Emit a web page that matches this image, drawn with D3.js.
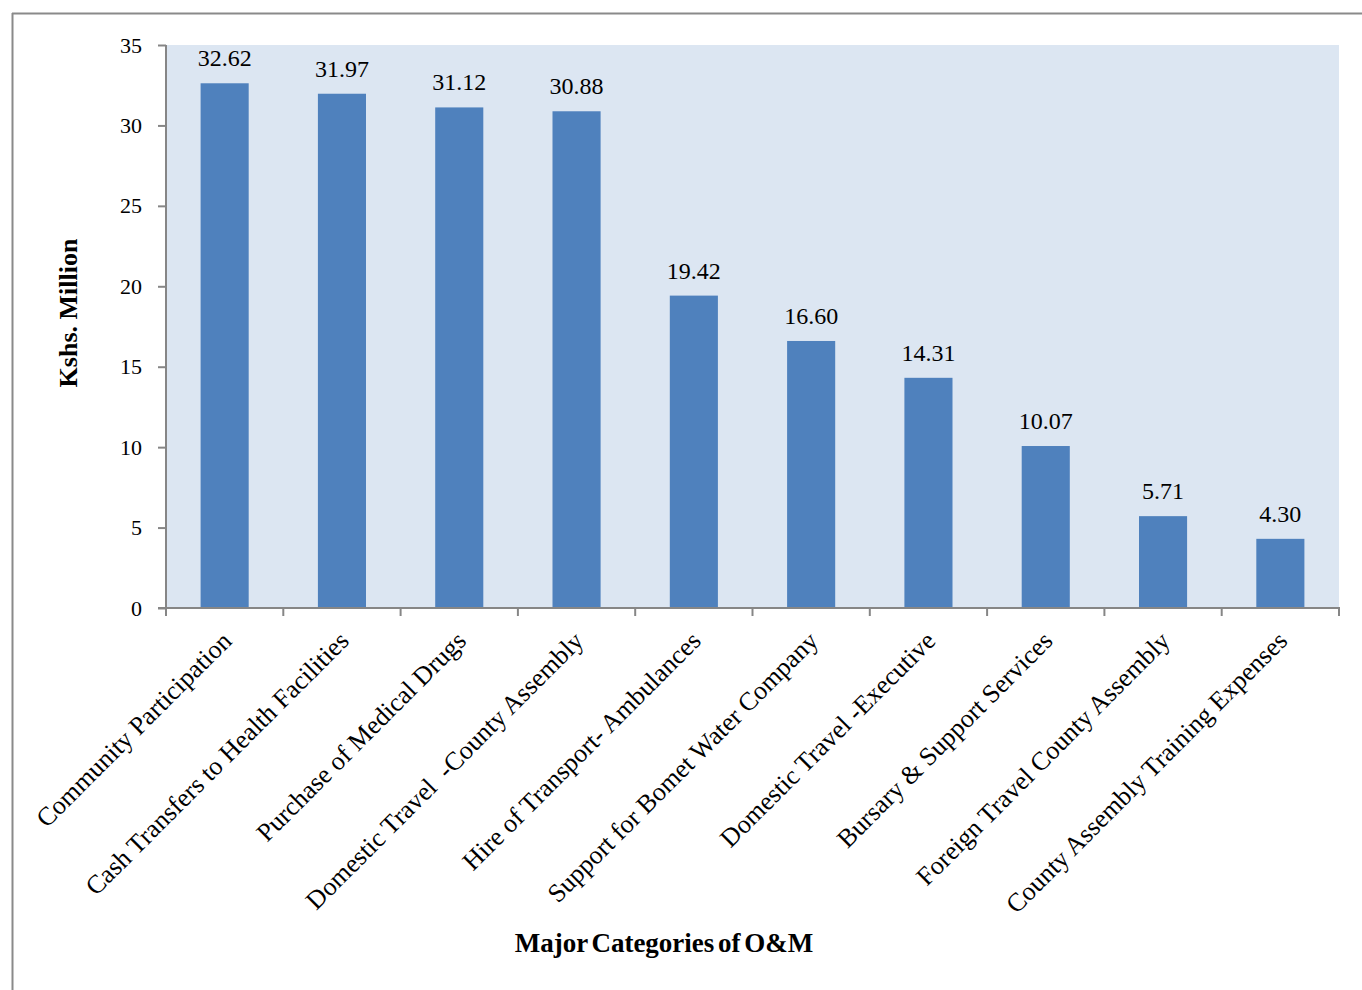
<!DOCTYPE html>
<html><head><meta charset="utf-8">
<script src="https://cdn.jsdelivr.net/npm/d3@7"></script>
<style>body{margin:0;background:#fff}svg{display:block}</style>
</head><body>
<svg id="c" width="1362" height="990"></svg>
<script>
const categories = ["Community Participation","Cash Transfers to Health Facilities","Purchase of Medical Drugs","Domestic Travel  -County Assembly","Hire of Transport- Ambulances","Support for Bomet Water Company","Domestic Travel -Executive","Bursary & Support Services","Foreign Travel County Assembly","County Assembly Training Expenses"];
const values = [32.62,31.97,31.12,30.88,19.42,16.60,14.31,10.07,5.71,4.30];
const yTicks = [0,5,10,15,20,25,30,35];

const svg = d3.select("#c");
const font = "'Liberation Serif','Times New Roman',serif";
const L=166,R=1339,T=45,B=608;
// frame
svg.append("line").attr("x1",12).attr("x2",1362).attr("y1",13.5).attr("y2",13.5).attr("stroke","#8a8a8a").attr("stroke-width",2);
svg.append("line").attr("x1",12.5).attr("x2",12.5).attr("y1",13).attr("y2",990).attr("stroke","#8a8a8a").attr("stroke-width",2);

svg.append("rect").attr("x",L).attr("y",T).attr("width",R-L).attr("height",B-T).attr("fill","#DCE6F2");

const x = d3.scaleBand().domain(categories).range([L,R]).paddingInner(0.59).paddingOuter(0.295);
const xb = d3.scaleBand().domain(categories).range([L,R]);
const y = d3.scaleLinear().domain([0,35]).range([B,T]);

svg.selectAll(".bar").data(values).enter().append("rect")
 .attr("x",(d,i)=>x(categories[i])).attr("width",x.bandwidth())
 .attr("y",d=>y(d)).attr("height",d=>B-y(d)).attr("fill","#4F81BD");

svg.selectAll(".vl").data(values).enter().append("text")
 .attr("x",(d,i)=>xb(categories[i])+xb.bandwidth()/2).attr("y",d=>y(d)-17)
 .attr("text-anchor","middle").attr("font-family",font).attr("font-size",24).attr("fill","#000")
 .text(d=>d.toFixed(2));

// y axis
const ya = svg.append("g").attr("transform",`translate(${L},0)`)
 .call(d3.axisLeft(y).tickValues(yTicks).tickSize(8).tickPadding(16).tickFormat(d3.format("d")));
ya.select(".domain").attr("stroke","#868686").attr("stroke-width",2).attr("d",`M0,${T}V${B}`);
ya.selectAll(".tick line").attr("stroke","#868686").attr("stroke-width",2);
ya.selectAll("text").attr("font-family",font).attr("font-size",22).attr("fill","#000");

// x axis
const xa = svg.append("g").attr("transform",`translate(0,${B})`);
xa.append("line").attr("x1",L-8).attr("x2",R+1).attr("y1",0).attr("y2",0).attr("stroke","#868686").attr("stroke-width",2);
const bounds = categories.map(c=>xb(c)).concat([R]);
xa.selectAll(".tk").data(bounds).enter().append("line")
 .attr("x1",d=>d).attr("x2",d=>d).attr("y1",0).attr("y2",8).attr("stroke","#868686").attr("stroke-width",2);
xa.selectAll(".lb").data(categories).enter().append("text")
 .attr("transform",d=>`translate(${xb(d)+xb.bandwidth()/2+2},${28}) rotate(-45)`)
 .attr("text-anchor","end").attr("dy","0.35em")
 .attr("font-family",font).attr("font-size",26).attr("fill","#000")
 .attr("xml:space","preserve").style("white-space","pre")
 .text(d=>d);

svg.append("text").attr("transform","translate(77,313) rotate(-90)").attr("text-anchor","middle")
 .attr("font-family",font).attr("font-size",26).attr("font-weight","bold").text("Kshs. Million");
svg.append("text").attr("x",664).attr("y",952).attr("text-anchor","middle")
 .attr("font-family",font).attr("font-size",27).attr("font-weight","bold").attr("word-spacing","-3").text("Major Categories of O&M");
</script>
</body></html>
